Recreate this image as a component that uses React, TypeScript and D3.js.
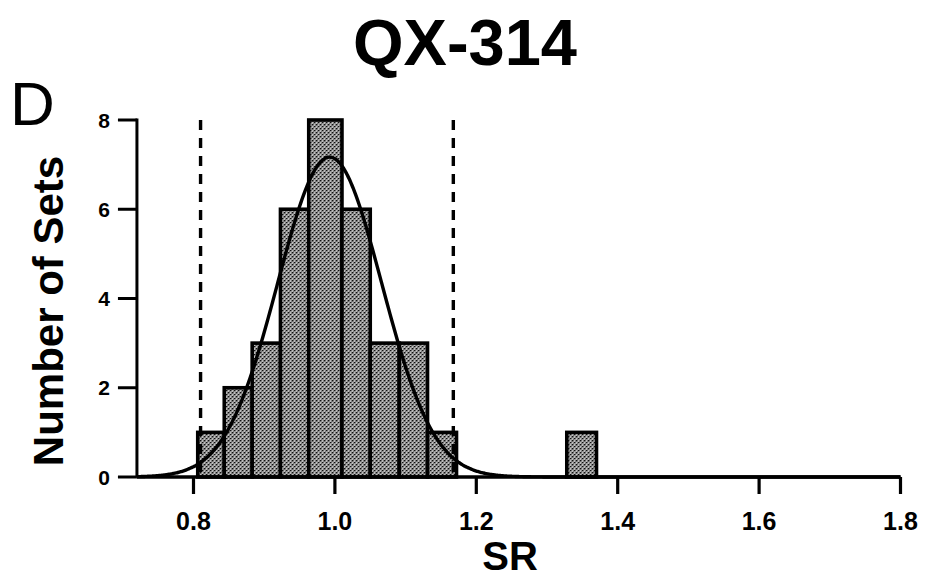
import React from "react";
import * as d3 from "d3";

// ---- data ----
const binEdges = [0.806, 0.8435, 0.883, 0.923, 0.963, 1.01, 1.05, 1.091, 1.131, 1.172];
const binCounts = [1, 2, 3, 6, 8, 6, 3, 3, 1];
const outlierEdges = [1.328, 1.37];
const outlierCounts = [1];
const xTicks = [0.8, 1.0, 1.2, 1.4, 1.6, 1.8];
const yTicks = [0, 2, 4, 6, 8];
const limitLines = [0.81, 1.1675];
const gaussMean = 0.9926;
const gaussSigma = 0.0735;
const gaussPeak = 7.17;
const curveSamples = d3.range(0.72, 1.8001, 0.002);

const W = 927;
const H = 579;
const FONT = "'Liberation Sans', Arial, Helvetica, sans-serif";

export default function App() {
  const x = d3.scaleLinear().domain([0.8, 1.8]).range([193.5, 900.5]);
  const y = d3.scaleLinear().domain([0, 8]).range([477, 120]);
  const xStart = 0.72;

  const bars: { x0: number; x1: number; c: number }[] = [];
  binCounts.forEach((c, i) => bars.push({ x0: binEdges[i], x1: binEdges[i + 1], c }));
  outlierCounts.forEach((c, i) => bars.push({ x0: outlierEdges[i], x1: outlierEdges[i + 1], c }));

  const gauss = (v: number) =>
    gaussPeak * Math.exp(-0.5 * Math.pow((v - gaussMean) / gaussSigma, 2));
  const line = d3
    .line<number>()
    .x((v) => x(v))
    .y((v) => y(gauss(v)))
    .curve(d3.curveBasis);

  return (
    <svg
      width={W}
      height={H}
      style={{ position: "absolute", left: 0, top: 0, background: "#fff" }}
      fontFamily={FONT}
    >
      <defs>
        <pattern id="stip" width="4" height="4" patternUnits="userSpaceOnUse">
          <rect width="4" height="4" fill="#bdbdbd" />
          <rect x="0" y="0" width="1.5" height="1.5" fill="#111" />
          <rect x="2" y="2" width="1.5" height="1.5" fill="#111" />
          <rect x="3" y="0.5" width="1" height="1" fill="#444" />
          <rect x="1" y="2.6" width="1" height="1" fill="#444" />
          <rect x="2.6" y="3.4" width="0.6" height="0.6" fill="#fff" />
        </pattern>
      </defs>

      {/* title */}
      <text x={465} y={65} textAnchor="middle" fontSize={65} fontWeight="bold">
        QX-314
      </text>
      <text x={10} y={125} fontSize={62}>
        D
      </text>

      {/* bars */}
      {bars.map((b, i) => (
        <rect
          key={i}
          x={x(b.x0)}
          y={y(b.c)}
          width={x(b.x1) - x(b.x0)}
          height={y(0) - y(b.c)}
          fill="url(#stip)"
          stroke="#000"
          strokeWidth={3.6}
        />
      ))}

      {/* dashed limit lines */}
      {limitLines.map((v, i) => (
        <line
          key={i}
          x1={x(v)}
          x2={x(v)}
          y1={y(8)}
          y2={y(0)}
          stroke="#000"
          strokeWidth={3.4}
          strokeDasharray="10 8"
        />
      ))}

      {/* gaussian fit */}
      <path d={line(curveSamples) || ""} fill="none" stroke="#000" strokeWidth={3.4} />

      {/* axes */}
      <line x1={x(xStart)} x2={x(1.8)} y1={y(0)} y2={y(0)} stroke="#000" strokeWidth={3.4} />
      <line x1={x(xStart)} x2={x(xStart)} y1={y(8) - 1.5} y2={y(0)} stroke="#000" strokeWidth={3} />

      {xTicks.map((t) => (
        <g key={t}>
          <line x1={x(t)} x2={x(t)} y1={y(0)} y2={y(0) + 17} stroke="#000" strokeWidth={3.2} />
          <text x={x(t)} y={530} textAnchor="middle" fontSize={25} fontWeight="bold">
            {t.toFixed(1)}
          </text>
        </g>
      ))}
      {yTicks.map((t) => (
        <g key={t}>
          <line x1={x(xStart) - 19} x2={x(xStart)} y1={y(t)} y2={y(t)} stroke="#000" strokeWidth={3} />
          <text x={110} y={y(t)} dy="0.36em" textAnchor="end" fontSize={21} fontWeight="bold">
            {t}
          </text>
        </g>
      ))}

      {/* axis titles */}
      <text x={510} y={570} textAnchor="middle" fontSize={40} fontWeight="bold">
        SR
      </text>
      <text
        transform="translate(63,311) rotate(-90)"
        textAnchor="middle"
        fontSize={42}
        fontWeight="bold"
      >
        Number of Sets
      </text>
    </svg>
  );
}
